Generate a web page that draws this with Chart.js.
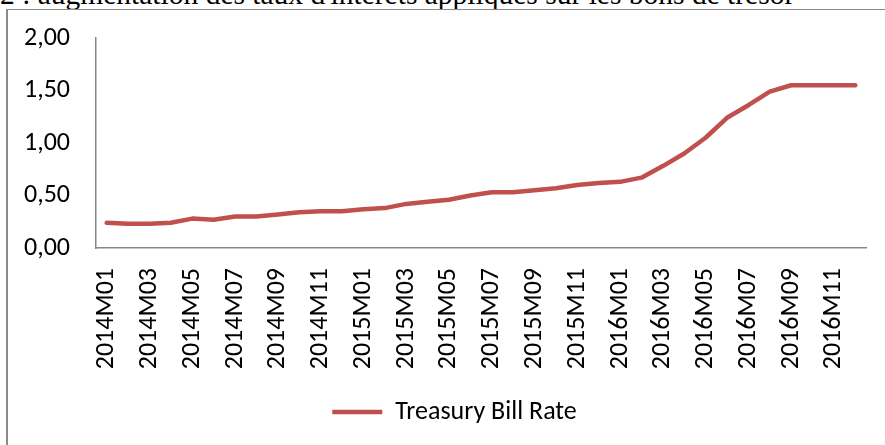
<!DOCTYPE html>
<html>
<head>
<meta charset="utf-8">
<script src="https://cdn.jsdelivr.net/npm/chart.js@4/dist/chart.umd.min.js"></script>
<style>
  html, body { margin: 0; padding: 0; background: #fff; overflow: hidden; }
  #wrap { position: relative; width: 885px; height: 445px; }
  #title {
    position: absolute; left: 0; top: -20px; white-space: nowrap;
    font-family: "Liberation Serif", "Times New Roman", serif; font-size: 29.5px; line-height: 1; color: #000;
  }
  #frame {
    position: absolute; left: 6px; top: 9px; width: 900px; height: 460px;
    border-left: 2px solid #8a8a8a; border-top: 1.5px solid #8a8a8a; box-sizing: border-box;
  }
  canvas { position: absolute; left: 0; top: 0; }
</style>
</head>
<body>
<div id="wrap">
  <div id="title">2 : augmentation des taux d'intérêts appliqués sur les bons de trésor</div>
  <div id="frame"></div>
  <canvas id="chart" width="885" height="445"></canvas>
</div>
<script>
// months 2014M01 .. 2016M12
const months = [
  '2014M01','2014M02','2014M03','2014M04','2014M05','2014M06','2014M07','2014M08','2014M09','2014M10','2014M11','2014M12',
  '2015M01','2015M02','2015M03','2015M04','2015M05','2015M06','2015M07','2015M08','2015M09','2015M10','2015M11','2015M12',
  '2016M01','2016M02','2016M03','2016M04','2016M05','2016M06','2016M07','2016M08','2016M09','2016M10','2016M11','2016M12'
];

// Treasury bill rate
const tbillRate = [
  0.24, 0.23, 0.23, 0.24, 0.28, 0.27, 0.30, 0.30, 0.32, 0.34, 0.35, 0.35,
  0.37, 0.38, 0.42, 0.44, 0.46, 0.50, 0.53, 0.53, 0.55, 0.57, 0.60, 0.62,
  0.63, 0.67, 0.78, 0.90, 1.05, 1.24, 1.36, 1.49, 1.55, 1.55, 1.55, 1.55
];

// y axis: 0,00 .. 2,00 every 0,50
const yMin = 0;
const yMax = 2;
const yStep = 0.5;
const seriesName = 'Treasury Bill Rate';

const labelFont = { family: 'Carlito, Calibri, Lato, sans-serif', size: 26 };
const axisGrey = '#878787';

// the legend sits centred under the frame, not under the canvas: nudge it right
const legendShift = {
  id: 'legendShift',
  afterLayout(chart) {
    if (chart.legend) chart.legend.left += 43;
  },
};

const ctx = document.getElementById('chart').getContext('2d');
new Chart(ctx, {
  type: 'line',
  data: {
    labels: months,
    datasets: [{
      label: seriesName,
      data: tbillRate,
      borderColor: '#C0504D',
      backgroundColor: '#C0504D',
      borderWidth: 4.5,
      borderCapStyle: 'round',
      borderJoinStyle: 'round',
      pointRadius: 0,
      tension: 0,
      fill: false,
    }],
  },
  options: {
    responsive: false,
    animation: false,
    layout: { padding: { left: 0, right: 19, top: 38, bottom: 10 } },
    plugins: {
      tooltip: { enabled: false },
      legend: {
        position: 'bottom',
        labels: {
          font: labelFont,
          color: '#000',
          usePointStyle: true,
          pointStyle: 'line',
          pointStyleWidth: 50,
          padding: 10,
        },
      },
    },
    scales: {
      x: {
        offset: true,
        grid: { display: false, drawTicks: false },
        border: { display: true, color: axisGrey, width: 1.5 },
        ticks: {
          autoSkip: false,
          minRotation: 90,
          maxRotation: 90,
          padding: 20,
          color: '#000',
          font: labelFont,
          callback: (v, i) => (i % 2 === 0 ? months[i] : ''),
        },
        afterFit: (scale) => {
          scale.height = 141;
          scale.paddingLeft = 0;
          scale.paddingRight = 0;
        },
      },
      y: {
        min: yMin,
        max: yMax,
        grid: { display: false, drawTicks: false },
        border: { display: true, color: axisGrey, width: 1.5 },
        ticks: {
          stepSize: yStep,
          padding: 26,
          color: '#000',
          font: labelFont,
          callback: (v) => Number(v).toFixed(2).replace('.', ','),
        },
        afterFit: (scale) => {
          scale.width = 96;
          scale.paddingTop = 0;
          scale.paddingBottom = 0;
        },
      },
    },
  },
  plugins: [legendShift],
});
</script>
</body>
</html>
